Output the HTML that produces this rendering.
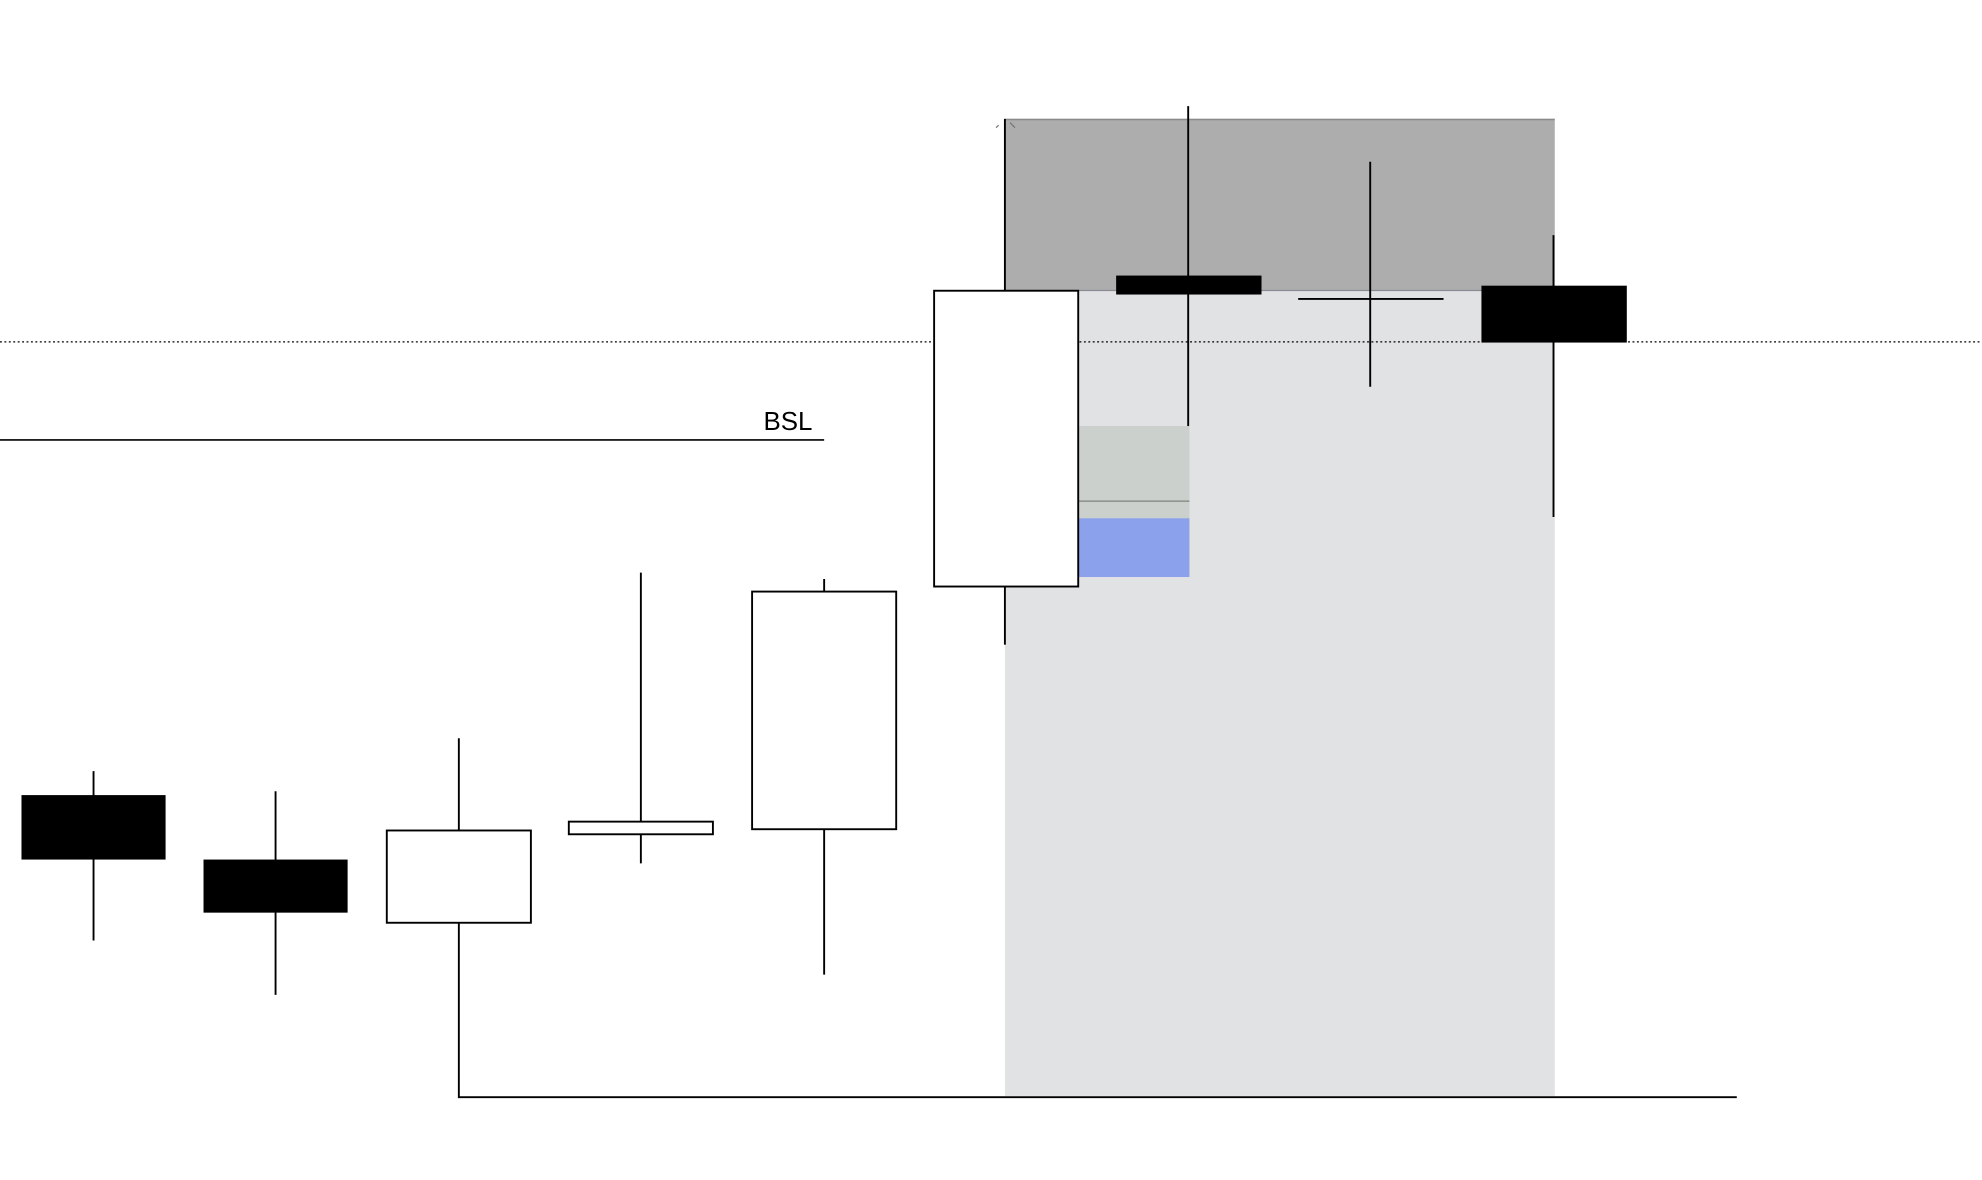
<!DOCTYPE html>
<html><head><meta charset="utf-8"><style>
html,body{margin:0;padding:0;background:#fff;}
svg{display:block;}
</style></head><body>
<svg width="1982" height="1180" viewBox="0 0 1568 933.5" preserveAspectRatio="none" xmlns="http://www.w3.org/2000/svg">
<rect x="0" y="0" width="1568" height="933.5" fill="#fff"/>
<!-- zones -->
<rect x="795" y="230" width="435" height="637" fill="#e1e2e4"/>
<rect x="795" y="94" width="435" height="136" fill="#adadad"/>
<line x1="795" y1="94.5" x2="1230" y2="94.5" stroke="#8a8a8a" stroke-width="1.2"/>
<line x1="795" y1="229.8" x2="1230" y2="229.8" stroke="#8a8c94" stroke-width="1"/>
<rect x="853" y="337" width="88" height="73" fill="#ccd0cc"/>
<line x1="853" y1="396.5" x2="941" y2="396.5" stroke="#909590" stroke-width="1.3"/>
<rect x="853" y="410" width="88" height="46.5" fill="#8ba1eb"/>
<!-- small marks -->
<line x1="788" y1="101" x2="790" y2="99" stroke="#777" stroke-width="1"/>
<line x1="799" y1="97" x2="803" y2="101" stroke="#777" stroke-width="1"/>
<!-- dotted line -->
<line x1="0" y1="270.5" x2="1568" y2="270.5" stroke="#000" stroke-width="1" stroke-dasharray="1.5,2"/>
<!-- BSL -->
<line x1="0" y1="348" x2="652" y2="348" stroke="#000" stroke-width="1.3"/>
<text x="604" y="340" font-family="Liberation Sans, sans-serif" font-size="20.5" fill="#000">BSL</text>
<!-- bottom line -->
<polyline points="363,730 363,868 1374,868" fill="none" stroke="#000" stroke-width="1.5"/>
<g stroke="#000" stroke-width="1.5">
<!-- wicks -->
<line x1="74" y1="610" x2="74" y2="744"/>
<line x1="218" y1="626" x2="218" y2="787"/>
<line x1="363" y1="584" x2="363" y2="657"/>
<line x1="507" y1="453" x2="507" y2="683"/>
<line x1="652" y1="458" x2="652" y2="771"/>
<line x1="795" y1="94" x2="795" y2="230"/>
<line x1="795" y1="464" x2="795" y2="510"/>
<line x1="940" y1="84" x2="940" y2="337"/>
<line x1="1084" y1="128" x2="1084" y2="306"/>
<line x1="1229" y1="186" x2="1229" y2="409"/>
<line x1="1027" y1="236.5" x2="1142" y2="236.5"/>
</g>
<!-- bodies -->
<rect x="17" y="629" width="114" height="51" fill="#000"/>
<rect x="161" y="680" width="114" height="42" fill="#000"/>
<rect x="306" y="657" width="114" height="73" fill="#fff" stroke="#000" stroke-width="1.5"/>
<rect x="450" y="650" width="114" height="10" fill="#fff" stroke="#000" stroke-width="1.5"/>
<rect x="595" y="468" width="114" height="188" fill="#fff" stroke="#000" stroke-width="1.5"/>
<rect x="739" y="230" width="114" height="234" fill="#fff" stroke="#000" stroke-width="1.5"/>
<rect x="883" y="218" width="115" height="15" fill="#000"/>
<rect x="1172" y="226" width="115" height="45" fill="#000"/>
</svg>
</body></html>
